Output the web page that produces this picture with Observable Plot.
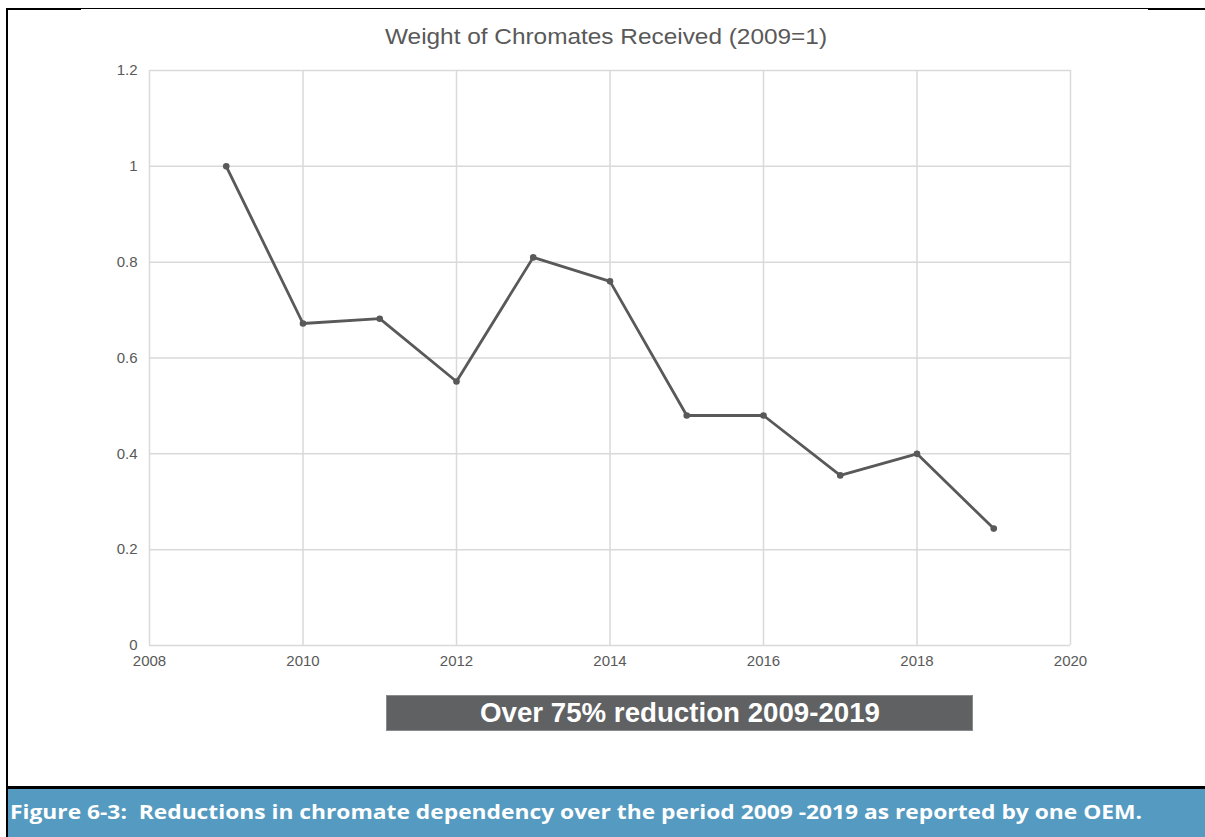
<!DOCTYPE html>
<html>
<head>
<meta charset="utf-8">
<script src="https://cdn.jsdelivr.net/npm/d3@7"></script>
<script src="https://cdn.jsdelivr.net/npm/@observablehq/plot@0.6"></script>
<style>
  html, body { margin: 0; padding: 0; background: #fff; }
  #page { position: relative; width: 1205px; height: 837px; overflow: hidden; background: #fff; }
  #chart { position: absolute; left: 0; top: 0; }
  .abs { position: absolute; }
  #title { top: 24px; left: 385px; white-space: pre; transform-origin: 0 0; line-height: 26px;
           font-family: "Liberation Sans", Arial, sans-serif; font-size: 22px; color: #595959; }
  #banner { left: 386px; top: 695px; width: 587px; height: 36px; background: #606163;
            border: 1px solid #8a8b8d; box-sizing: border-box; }
  #bannerText { left: 480px; top: 697px; white-space: pre; transform-origin: 0 0; line-height: 32px;
            font-family: "Liberation Sans", Arial, sans-serif; font-weight: bold; font-size: 27px; color: #fff; }
  #capbar { left: 8px; top: 789px; width: 1197px; height: 48px; background: #559ac0; }
  #caption { left: 10px; top: 801px; white-space: pre; transform-origin: 0 0;
             font-family: "Open Sans", "Noto Sans", sans-serif; font-weight: bold; font-size: 19px; color: #fff; line-height: 22px; }
  .blk { background: #000; }
</style>
</head>
<body>
<div id="page">
  <div class="abs blk" style="left:8px; top:8px; width:1140px; height:1px;"></div>
  <div class="abs blk" style="left:8px; top:8px; width:73px; height:2px;"></div>
  <div class="abs blk" style="left:1148px; top:8px; width:57px; height:2px;"></div>
  <div class="abs blk" style="left:6px; top:8px; width:2px; height:829px;"></div>
  <div class="abs blk" style="left:6px; top:786px; width:1199px; height:3px;"></div>
  <div id="capbar" class="abs"></div>
  <div id="banner" class="abs"></div>
  <div id="chart"></div>
  <div id="title" class="abs"></div>
  <div id="bannerText" class="abs"></div>
  <div id="caption" class="abs"></div>
</div>
<script>
// ---- data ----
const years  = [2009, 2010, 2011, 2012, 2013, 2014, 2015, 2016, 2017, 2018, 2019];
const values = [1.0, 0.672, 0.682, 0.551, 0.81, 0.76, 0.48, 0.48, 0.355, 0.40, 0.244];
const xTicks = [2008, 2010, 2012, 2014, 2016, 2018, 2020];
const yTicks = [0, 0.2, 0.4, 0.6, 0.8, 1.0, 1.2];
const yTickLabels = ["0", "0.2", "0.4", "0.6", "0.8", "1", "1.2"];
const titleText = "Weight of Chromates Received (2009=1)";
const bannerText = "Over 75% reduction 2009-2019";
const captionText = "Figure 6-3:  Reductions in chromate dependency over the period 2009 -2019 as reported by one OEM.";

const data = years.map((year, i) => ({year, value: values[i]}));

const chart = Plot.plot({
  width: 1205,
  height: 700,
  marginLeft: 149,
  marginRight: 135,
  marginTop: 70,
  marginBottom: 55,
  style: {fontFamily: "'Liberation Sans', Arial, sans-serif", fontSize: "15px", color: "#595959", background: "transparent", overflow: "visible"},
  x: {domain: [2008, 2020], ticks: xTicks, tickFormat: d => String(d), tickSize: 0, tickPadding: 10, label: null},
  y: {domain: [0, 1.2], ticks: yTicks, tickFormat: d => yTickLabels[yTicks.findIndex(t => Math.abs(t - d) < 1e-9)], tickSize: 0, tickPadding: 12, label: null},
  marks: [
    Plot.ruleY(yTicks, {stroke: "#d9d9d9", strokeWidth: 1.5}),
    Plot.ruleX(xTicks, {stroke: "#d9d9d9", strokeWidth: 1.5}),
    Plot.line(data, {x: "year", y: "value", stroke: "#595959", strokeWidth: 2.8, strokeLinejoin: "round"}),
    Plot.dot(data, {x: "year", y: "value", r: 3.3, fill: "#595959", stroke: "none"})
  ]
});
document.getElementById("chart").appendChild(chart);

// place texts and fit them to the widths seen in the reference
function fit(id, text, targetWidth) {
  const el = document.getElementById(id);
  el.textContent = text;
  const w = el.getBoundingClientRect().width;
  el.style.transform = `scaleX(${targetWidth / w})`;
}
fit("title", titleText, 442);
fit("bannerText", bannerText, 400);
fit("caption", captionText, 1132);
</script>
</body>
</html>
